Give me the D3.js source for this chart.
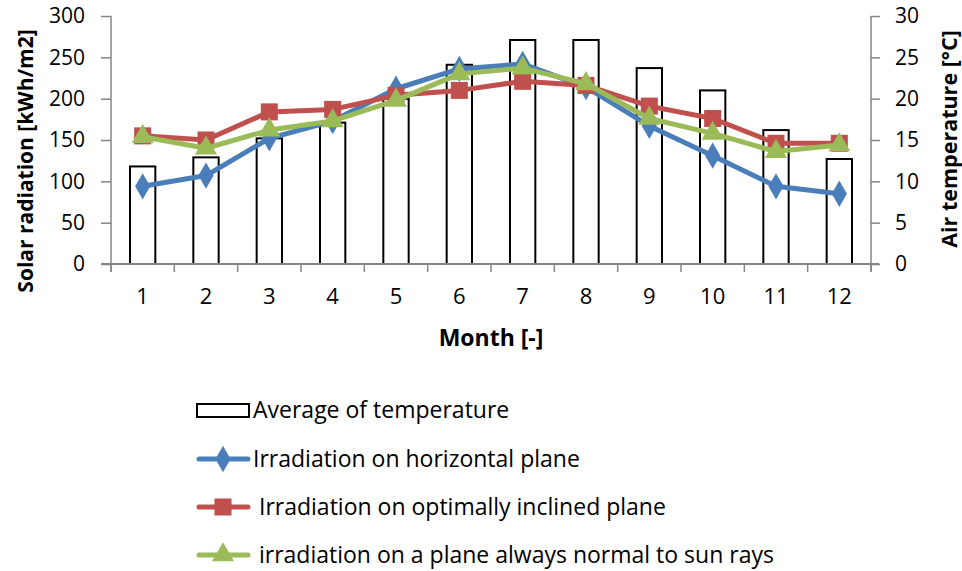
<!DOCTYPE html>
<html lang="en">
<head>
<meta charset="UTF-8">
<title>Solar radiation and air temperature by month</title>
<script src="https://d3js.org/d3.v7.min.js"></script>
<style>
    body { margin: 0; background: #fff; }
    svg { display: block; font-family: "Open Sans", sans-serif; }
    .axis path, .axis line { stroke: #868686; }
    .axis text { fill: #000; font-size: 21px; font-family: "Open Sans", sans-serif; }
</style>
</head>
<body>
<svg id="chart" width="962" height="571"></svg>
<script>
    // data
    const months = ["1", "2", "3", "4", "5", "6", "7", "8", "9", "10", "11", "12"];
    const temperature = [11.8, 12.9, 15.2, 17.1, 20.0, 24.1, 27.1, 27.1, 23.7, 21.0, 16.2, 12.7];
    const horizontal = [94, 107, 152, 173, 212, 236, 242, 214, 167, 131, 94, 85];
    const inclined = [155, 150, 184, 187, 204, 210, 221, 216, 191, 176, 146, 146];
    const normal = [154, 140, 162, 173, 198, 230, 237, 218, 176, 158, 136, 144];
    const radTicks = [0, 50, 100, 150, 200, 250, 300];
    const tempTicks = [0, 5, 10, 15, 20, 25, 30];

    const series = [
        { name: "Irradiation on horizontal plane", values: horizontal, color: "#4A7EBB", marker: d3.symbolDiamond, size: 200 },
        { name: " Irradiation on optimally inclined plane", values: inclined, color: "#C0504D", marker: d3.symbolSquare, size: 290 },
        { name: " irradiation on a plane always normal to sun rays", values: normal, color: "#9BBB59", marker: d3.symbolTriangle, size: 210 }
    ];

    const svg = d3.select("#chart");
    const plotL = 111, plotR = 871, plotT = 16, plotB = 264;

    const x = d3.scaleBand().domain(months).range([plotL, plotR]);
    const yRad = d3.scaleLinear().domain([0, 300]).range([plotB, plotT]);
    const yTemp = d3.scaleLinear().domain([0, 30]).range([plotB, plotT]);

    // bars (temperature, right axis)
    const barW = x.bandwidth() * 0.4;
    svg.append("g").selectAll("rect")
        .data(temperature)
        .enter().append("rect")
        .attr("x", (d, i) => x(months[i]) + x.bandwidth() / 2 - barW / 2)
        .attr("y", d => yTemp(d))
        .attr("width", barW)
        .attr("height", d => plotB - yTemp(d))
        .attr("fill", "#fff")
        .attr("stroke", "#000")
        .attr("stroke-width", 2);

    // axes
    const xAxis = svg.append("g").attr("class", "axis")
        .attr("transform", `translate(0,${plotB})`)
        .call(d3.axisBottom(x).tickSize(0).tickPadding(24));
    xAxis.select(".domain").attr("d", `M${plotL - 10},0H${plotR + 8}`).attr("stroke-width", 2);
    xAxis.selectAll("text").style("font-size", "22px");
    xAxis.selectAll(".bound")
        .data(d3.range(13))
        .enter().append("line")
        .attr("x1", i => plotL + i * x.step())
        .attr("x2", i => plotL + i * x.step())
        .attr("y1", 0).attr("y2", 8)
        .attr("stroke", "#868686").attr("stroke-width", 1.5);

    const yL = svg.append("g").attr("class", "axis")
        .attr("transform", `translate(${plotL},0)`)
        .call(d3.axisLeft(yRad).tickValues(radTicks).tickSize(10).tickPadding(16));
    yL.select(".domain").attr("d", `M0,${plotT}V${plotB + 8}`).attr("stroke-width", 1.5);
    yL.selectAll(".tick line").attr("stroke-width", 1.5);

    const yR = svg.append("g").attr("class", "axis")
        .attr("transform", `translate(${plotR},0)`)
        .call(d3.axisRight(yTemp).tickValues(tempTicks).tickSize(9).tickPadding(15));
    yR.select(".domain").attr("d", `M0,${plotT}V${plotB + 8}`).attr("stroke-width", 1.5);
    yR.selectAll(".tick line").attr("stroke-width", 1.5);

    // lines + markers
    const line = d3.line()
        .x((d, i) => x(months[i]) + x.bandwidth() / 2)
        .y(d => yRad(d));

    series.forEach(s => {
        svg.append("path")
            .datum(s.values)
            .attr("d", line)
            .attr("fill", "none")
            .attr("stroke", s.color)
            .attr("stroke-width", 5)
            .attr("stroke-linejoin", "round");
        svg.append("g").selectAll("path")
            .data(s.values)
            .enter().append("path")
            .attr("transform", (d, i) => `translate(${x(months[i]) + x.bandwidth() / 2},${yRad(d)})`)
            .attr("d", d3.symbol().type(s.marker).size(s.size))
            .attr("fill", s.color);
    });

    // axis titles
    svg.append("text")
        .attr("transform", "translate(33,161) rotate(-90)")
        .attr("text-anchor", "middle")
        .attr("font-size", 21).attr("font-weight", "bold")
        .text("Solar radiation [kWh/m2]");
    svg.append("text")
        .attr("transform", "translate(957,139) rotate(-90)")
        .attr("text-anchor", "middle")
        .attr("font-size", 21.5).attr("font-weight", "bold")
        .text("Air temperature [°C]");
    svg.append("text")
        .attr("x", (plotL + plotR) / 2).attr("y", 346)
        .attr("text-anchor", "middle")
        .attr("font-size", 23).attr("font-weight", "bold")
        .text("Month [-]");

    // legend
    const legend = svg.append("g");
    const rowY = [410, 459, 507, 555];
    legend.append("rect")
        .attr("x", 197).attr("y", rowY[0] - 6).attr("width", 52).attr("height", 13)
        .attr("fill", "#fff").attr("stroke", "#000").attr("stroke-width", 2);
    legend.append("text")
        .attr("x", 253).attr("y", rowY[0] + 8)
        .attr("font-size", 23)
        .text("Average of temperature");

    series.forEach((s, k) => {
        const yy = rowY[k + 1];
        legend.append("line")
            .attr("x1", 199).attr("x2", 248).attr("y1", yy).attr("y2", yy)
            .attr("stroke", s.color).attr("stroke-width", 5).attr("stroke-linecap", "round");
        legend.append("path")
            .attr("transform", `translate(223,${yy})`)
            .attr("d", d3.symbol().type(s.marker).size(s.size))
            .attr("fill", s.color);
        legend.append("text")
            .attr("x", 253).attr("y", yy + 8)
            .attr("font-size", 23)
            .style("white-space", "pre")
            .text(s.name);
    });
</script>
</body>
</html>
